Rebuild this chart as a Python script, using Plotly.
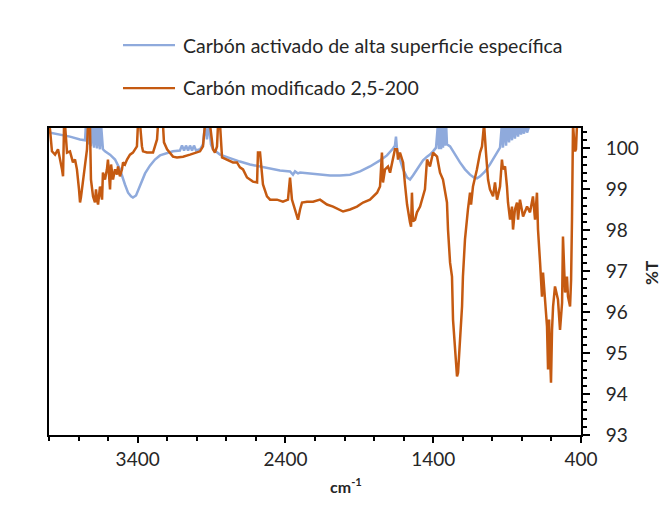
import plotly.graph_objects as go

# --- FTIR spectra: wavenumber (cm-1) and transmittance (%T) ---
series_names = [
    "Carbón activado de alta superficie específica",
    "Carbón modificado 2,5-200",
]
series_colors = ["#8FAADC", "#C55A11"]

activado_wn = [4000, 3926, 3858, 3790, 3756, 3750, 3736, 3729, 3716, 3709, 3695, 3689, 3675, 3668,
               3655, 3648, 3635, 3621, 3587, 3553, 3520, 3486, 3465, 3445, 3432, 3411, 3384, 3350,
               3317, 3283, 3249, 3201, 3161, 3114, 3100, 3086, 3073, 3059, 3046, 3032, 3019, 3005,
               2978, 2958, 2944, 2931, 2917, 2904, 2890, 2843, 2775, 2708, 2640, 2572, 2504, 2437,
               2369, 2349, 2335, 2315, 2301, 2234, 2166, 2098, 2031, 1963, 1895, 1828, 1760, 1713,
               1672, 1659, 1652, 1645, 1625, 1604, 1577, 1557, 1537, 1510, 1489, 1469, 1442, 1422,
               1401, 1381, 1368, 1361, 1354, 1347, 1341, 1334, 1327, 1320, 1313, 1307, 1286, 1253,
               1219, 1185, 1151, 1124, 1104, 1083, 1049, 1016, 982, 948, 935, 928, 921, 907, 901,
               887, 880, 867, 860, 847, 840, 826, 819, 806, 799, 786, 779, 765, 745, 600, 400]
activado_T = [100.39, 100.34, 100.29, 100.22, 100.20, 100.6, 100.10, 100.6, 100.05, 100.6, 100.02,
              100.6, 100.0, 100.6, 99.98, 100.6, 99.98, 99.93, 99.85, 99.73, 99.49, 99.12, 98.92,
              98.83, 98.80, 98.85, 99.07, 99.39, 99.58, 99.73, 99.83, 99.88, 99.93, 99.95, 100.07,
              99.95, 100.07, 99.95, 100.07, 99.95, 100.07, 99.95, 99.98, 100.10, 100.6, 100.22,
              100.6, 100.10, 99.98, 99.85, 99.76, 99.68, 99.61, 99.56, 99.51, 99.46, 99.44, 99.36,
              99.44, 99.39, 99.41, 99.39, 99.36, 99.34, 99.34, 99.36, 99.44, 99.56, 99.71, 99.83,
              100.0, 100.07, 100.29, 99.98, 99.73, 99.49, 99.29, 99.24, 99.34, 99.49, 99.61, 99.71,
              99.80, 99.85, 99.93, 100.02, 100.6, 99.98, 100.6, 99.98, 100.6, 100.02, 100.6, 100.07,
              100.6, 100.10, 100.05, 99.85, 99.66, 99.49, 99.36, 99.29, 99.27, 99.32, 99.44, 99.61,
              99.80, 100.02, 100.6, 100.02, 100.6, 100.07, 100.6, 100.15, 100.6, 100.20, 100.6,
              100.24, 100.6, 100.29, 100.6, 100.34, 100.6, 100.36, 100.6, 100.39, 100.6, 100.8, 100.8]

modificado_wn = [4000, 3993, 3980, 3959, 3939, 3926, 3912, 3905, 3898, 3892,
                 3878, 3858, 3844, 3838, 3824, 3811, 3797, 3790, 3784, 3770,
                 3756, 3743, 3736, 3723, 3716, 3702, 3689, 3682, 3675, 3668,
                 3655, 3641, 3635, 3621, 3608, 3601, 3587, 3580, 3567, 3553,
                 3540, 3533, 3520, 3506, 3499, 3486, 3472, 3452, 3432, 3405,
                 3398, 3384, 3371, 3364, 3337, 3296, 3269, 3262, 3229, 3222,
                 3201, 3181, 3161, 3134, 3093, 3046, 2998, 2978, 2958, 2944,
                 2911, 2890, 2877, 2863, 2856, 2843, 2829, 2795, 2755, 2728,
                 2708, 2687, 2660, 2640, 2620, 2592, 2586, 2572, 2559, 2552,
                 2525, 2504, 2457, 2417, 2383, 2369, 2356, 2335, 2315, 2301,
                 2288, 2254, 2213, 2166, 2119, 2078, 2031, 2010, 1963, 1916,
                 1875, 1828, 1780, 1760, 1747, 1740, 1726, 1706, 1692, 1672,
                 1659, 1645, 1638, 1625, 1604, 1591, 1577, 1557, 1550, 1544,
                 1537, 1523, 1510, 1489, 1469, 1456, 1442, 1422, 1401, 1374,
                 1354, 1334, 1307, 1300, 1286, 1273, 1266, 1253, 1246, 1239,
                 1232, 1226, 1219, 1212, 1205, 1199, 1185, 1165, 1151, 1144,
                 1131, 1104, 1083, 1070, 1056, 1043, 1029, 1016, 995, 982,
                 968, 948, 935, 928, 914, 901, 894, 880, 867, 860,
                 847, 833, 826, 813, 792, 765, 745, 725, 711, 698,
                 691, 677, 664, 657, 644, 630, 623, 616, 610, 603,
                 596, 589, 576, 562, 556, 542, 528, 522, 515, 508,
                 495, 488, 474, 467, 461, 454, 447, 440, 434, 427,
                 400]
modificado_T = [100.6, 100.46, 99.93, 99.85, 99.98, 99.78, 99.49, 99.32, 100.6, 100.6,
                99.90, 99.93, 99.78, 99.66, 99.73, 99.49, 99.00, 98.68, 98.80, 99.17,
                99.61, 99.98, 100.6, 100.6, 99.24, 98.83, 98.68, 99.00, 98.75, 98.63,
                99.07, 98.75, 99.41, 99.24, 99.49, 99.73, 99.00, 99.61, 99.24, 99.49,
                99.36, 99.56, 99.32, 99.49, 99.66, 99.61, 99.73, 99.85, 99.90, 100.05,
                100.6, 100.6, 100.05, 99.93, 99.90, 99.90, 100.22, 100.6, 100.6, 100.15,
                99.98, 99.90, 99.80, 99.78, 99.80, 99.85, 99.90, 99.93, 100.05, 100.6,
                100.6, 99.98, 99.90, 100.05, 100.6, 100.6, 99.78, 99.73, 99.66, 99.66,
                99.54, 99.49, 99.29, 99.24, 99.19, 99.17, 99.90, 99.90, 99.49, 99.12,
                98.83, 98.75, 98.75, 98.70, 98.75, 99.29, 98.75, 98.51, 98.26, 98.51,
                98.68, 98.70, 98.70, 98.75, 98.63, 98.58, 98.51, 98.46, 98.51, 98.58,
                98.68, 98.75, 98.92, 99.07, 99.90, 99.17, 99.49, 99.56, 99.41, 99.80,
                99.98, 99.98, 99.73, 99.90, 99.66, 99.12, 98.63, 98.19, 98.09, 98.92,
                98.22, 98.26, 98.44, 98.58, 98.83, 99.00, 99.73, 99.56, 99.90, 99.80,
                99.41, 99.24, 98.68, 98.02, 97.21, 96.87, 95.82, 95.16, 94.72, 94.43,
                94.52, 94.84, 95.16, 95.65, 96.14, 96.87, 97.78, 98.51, 98.92, 98.63,
                99.07, 99.49, 99.90, 100.05, 100.6, 99.90, 99.24, 99.00, 98.83, 99.17,
                98.75, 99.07, 99.73, 99.49, 99.56, 99.07, 98.68, 98.26, 98.58, 98.02,
                98.51, 98.68, 98.26, 98.75, 98.34, 98.58, 98.44, 98.83, 98.26, 98.92,
                98.02, 97.21, 96.38, 96.97, 96.31, 95.65, 94.60, 95.82, 95.01, 94.28,
                95.57, 96.14, 96.63, 96.38, 96.31, 95.57, 96.23, 97.85, 96.80, 96.48,
                96.87, 96.38, 96.14, 96.80, 98.26, 100.6, 100.22, 99.93, 99.98, 100.6,
                100.7]

assert len(activado_wn) == len(activado_T)
assert len(modificado_wn) == len(modificado_T)

x_range = [4000, 400]
y_range = [93, 100.5]
x_title = "<b>cm<sup>-1</sup></b>"
y_title = "<b>%T</b>"

# --- figure geometry (pixels) ---
W, H = 668, 513
L, R, T, B = 49, 581, 128, 435   # plot area edges


def px_x(px):
    return (px - L) / (R - L)


def px_y(py):
    return (B - py) / (B - T)


FONT = "Lato"
TXT = "#262626"
LINE_W = 2.5

fig = go.Figure()
fig.add_trace(go.Scatter(x=activado_wn, y=activado_T, mode="lines", name=series_names[0],
                         line=dict(color=series_colors[0], width=LINE_W)))
fig.add_trace(go.Scatter(x=modificado_wn, y=modificado_T, mode="lines", name=series_names[1],
                         line=dict(color=series_colors[1], width=LINE_W)))

fig.update_layout(
    width=W, height=H,
    margin=dict(l=L, r=W - R, t=T, b=H - B, pad=0),
    paper_bgcolor="white", plot_bgcolor="white",
    showlegend=False,
    font=dict(family=FONT, color=TXT),
)

fig.update_xaxes(
    range=x_range, tickmode="linear", tick0=400, dtick=1000,
    ticks="outside", ticklen=6, tickwidth=1.5, tickcolor="black",
    showline=True, linecolor="black", linewidth=2, mirror=True,
    showgrid=False, zeroline=False,
    tickfont=dict(family=FONT, size=19, color=TXT),
    minor=dict(tick0=400, dtick=200, ticks="outside", ticklen=4, tickwidth=1.5,
               tickcolor="black", showgrid=False),
)
fig.update_yaxes(
    range=y_range, side="right", tickmode="linear", tick0=93, dtick=1,
    ticks="outside", ticklen=7, tickwidth=1.5, tickcolor="black",
    showline=True, linecolor="black", linewidth=2, mirror=True,
    showgrid=False, zeroline=False,
    tickfont=dict(family=FONT, size=19, color=TXT),
    ticklabelstandoff=12,
    minor=dict(tick0=93, dtick=0.2, ticks="outside", ticklen=4, tickwidth=1.5,
               tickcolor="black", showgrid=False),
)

# legend drawn as line samples with labels
shapes = []
annotations = []
for name, color, ly in zip(series_names, series_colors, [45, 88]):
    shapes.append(dict(type="line", xref="paper", yref="paper",
                       x0=px_x(123), x1=px_x(175), y0=px_y(ly), y1=px_y(ly),
                       line=dict(color=color, width=2.25)))
    annotations.append(dict(xref="paper", yref="paper", x=px_x(181), y=px_y(ly),
                            xanchor="left", yanchor="middle", showarrow=False,
                            text=name, font=dict(family=FONT, size=19.5, color=TXT)))

annotations.append(dict(xref="paper", yref="paper", x=px_x(346), y=px_y(485),
                        xanchor="center", yanchor="middle", showarrow=False,
                        text=x_title, font=dict(family=FONT, size=16, color=TXT)))
annotations.append(dict(xref="paper", yref="paper", x=px_x(651), y=px_y(273),
                        xanchor="center", yanchor="middle", showarrow=False, textangle=-90,
                        text=y_title, font=dict(family=FONT, size=17, color=TXT)))

fig.update_layout(shapes=shapes, annotations=annotations)
fig.write_html("out.html")
